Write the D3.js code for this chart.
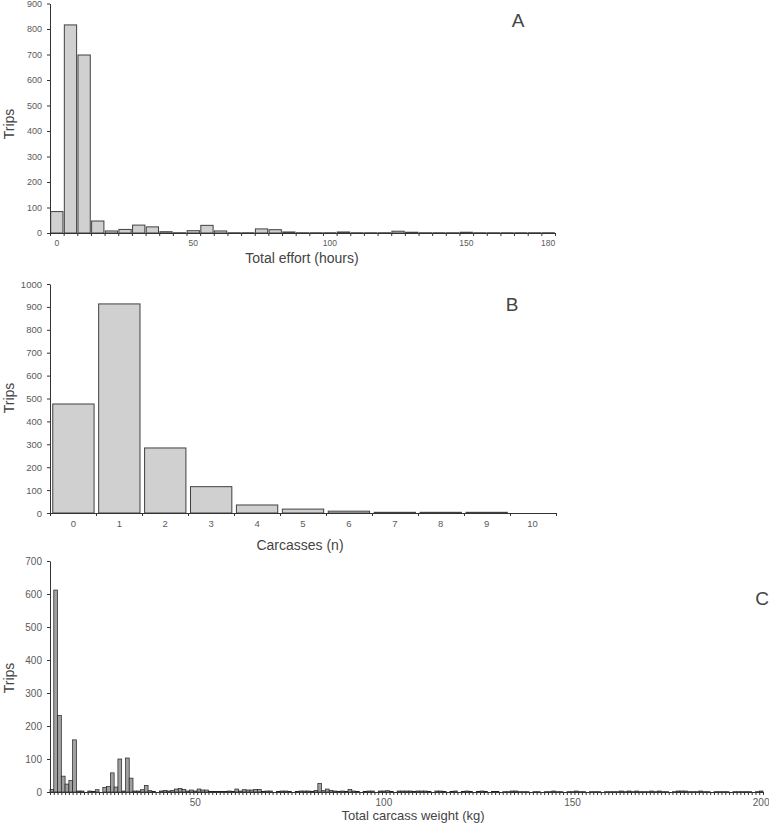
<!DOCTYPE html>
<html>
<head>
<meta charset="utf-8">
<script src="https://cdn.jsdelivr.net/npm/d3@7"></script>
<style>
  body { margin: 0; background: #fff; }
  svg text { font-family: Arial, "Liberation Sans", sans-serif; }
</style>
</head>
<body>
<svg id="chart" width="769" height="823"></svg>
<script>
// Panel A - total effort per trip, 5 hour bins
var effortBins = [0, 5, 10, 15, 20, 25, 30, 35, 40, 45, 50, 55, 60, 65, 70, 75, 80, 85, 90,
  95, 100, 105, 110, 115, 120, 125, 130, 135, 140, 145, 150, 155, 160, 165, 170, 175, 180];
var effortTrips = [84, 816, 698, 47, 8, 14, 31, 24, 5, 1, 9, 30, 8, 1, 1, 16, 13, 4, 1,
  1, 1, 4, 1, 1, 1, 7, 3, 1, 1, 1, 3, 1, 1, 1, 1, 1, 1];
var effortTickLabels = [0, 50, 100, 150, 180];
var effortYTicks = [0, 100, 200, 300, 400, 500, 600, 700, 800, 900];

// Panel B - carcasses per trip
var carcassCounts = [0, 1, 2, 3, 4, 5, 6, 7, 8, 9, 10];
var carcassTrips = [476, 913, 284, 115, 35, 17, 8, 3, 3, 3, 0];
var carcassYTicks = [0, 100, 200, 300, 400, 500, 600, 700, 800, 900, 1000];

// Panel C - total carcass weight per trip, 1 kg bins from 12 to 200 kg
var weightKg = d3.range(12, 201);
var weightTrips = [
  8, 612, 232, 48, 24, 35, 158, 3, 3, 0,
  3, 2, 7, 0, 14, 17, 58, 15, 100, 3,
  103, 42, 3, 3, 7, 20, 4, 2, 0, 3,
  5, 3, 5, 9, 11, 8, 3, 6, 3, 9,
  6, 6, 2, 2, 2, 2, 2, 3, 2, 9,
  3, 7, 6, 6, 8, 8, 2, 3, 3, 0,
  2, 3, 3, 2, 0, 2, 3, 3, 3, 2,
  5, 26, 4, 9, 5, 3, 2, 3, 2, 8,
  3, 2, 0, 2, 3, 3, 0, 3, 3, 4,
  2, 0, 3, 3, 3, 3, 2, 3, 3, 3,
  2, 0, 3, 3, 2, 0, 2, 3, 0, 2,
  3, 2, 0, 2, 3, 2, 0, 2, 2, 0,
  1, 1, 3, 3, 1, 1, 1, 0, 1, 1,
  0, 1, 1, 3, 1, 1, 0, 1, 1, 3,
  1, 1, 0, 1, 1, 1, 0, 1, 1, 1,
  1, 3, 1, 3, 1, 3, 1, 1, 1, 3,
  1, 3, 1, 1, 0, 1, 3, 3, 3, 1,
  1, 1, 3, 1, 1, 0, 1, 1, 1, 1,
  0, 1, 1, 1, 1, 1, 0, 1, 3];
var weightTickLabels = [50, 100, 150, 200];
var weightYTicks = [0, 100, 200, 300, 400, 500, 600, 700];

var svg = d3.select('#chart');

function drawPanel(p) {
  var g = svg.append('g');
  var n = p.cats.length;

  var x = d3.scaleBand()
    .domain(p.cats)
    .range([p.left, p.right])
    .paddingInner(p.padIn)
    .paddingOuter(p.padOut);
  var y = d3.scaleLinear()
    .domain([0, p.yMax])
    .range([p.bottom, p.top]);

  // bars
  g.append('g').selectAll('rect')
    .data(p.values)
    .enter()
    .append('rect')
    .attr('x', function(d, i) { return x(p.cats[i]); })
    .attr('y', function(d) { return y(d); })
    .attr('width', x.bandwidth())
    .attr('height', function(d) { return p.bottom - y(d); })
    .attr('fill', p.fill)
    .attr('stroke', p.stroke)
    .attr('stroke-width', p.strokeWidth);

  // small ticks on every bin boundary
  var edges = d3.scaleLinear().domain([0, n]).range([p.left, p.right]);
  g.append('g')
    .attr('transform', 'translate(0,' + p.bottom + ')')
    .call(d3.axisBottom(edges).tickValues(d3.range(n + 1)).tickSize(3).tickSizeOuter(0).tickFormat(''))
    .call(function(a) {
      a.select('.domain').attr('stroke', '#333');
      a.selectAll('.tick line').attr('stroke', '#333');
    });

  // category labels
  g.append('g')
    .attr('transform', 'translate(0,' + p.bottom + ')')
    .call(d3.axisBottom(x).tickValues(p.xTicks).tickSize(0).tickPadding(p.xPad))
    .call(function(a) {
      a.select('.domain').remove();
      a.selectAll('text').attr('fill', '#5a5a5a').style('font-size', p.xFont + 'px');
    });

  // y axis
  g.append('g')
    .attr('transform', 'translate(' + p.left + ',0)')
    .call(d3.axisLeft(y).tickValues(p.yTicks).tickFormat(d3.format('d'))
      .tickSize(3).tickSizeOuter(0).tickPadding(5))
    .call(function(a) {
      a.select('.domain').attr('stroke', '#333');
      a.selectAll('.tick line').attr('stroke', '#333');
      a.selectAll('text').attr('fill', '#5a5a5a').style('font-size', p.yFont + 'px');
    });

  // axis titles
  g.append('text')
    .attr('x', p.titleX)
    .attr('y', p.titleY)
    .attr('text-anchor', 'middle')
    .attr('fill', '#444')
    .style('font-size', p.titleFont + 'px')
    .text(p.title);

  g.append('text')
    .attr('transform', 'translate(' + 14 + ',' + p.tripsY + ') rotate(-90)')
    .attr('text-anchor', 'middle')
    .attr('fill', '#444')
    .style('font-size', '14px')
    .text('Trips');

  // panel letter
  g.append('text')
    .attr('x', p.letterX)
    .attr('y', p.letterY)
    .attr('text-anchor', 'middle')
    .attr('fill', '#444')
    .style('font-size', '19px')
    .text(p.letter);
}

drawPanel({
  cats: effortBins, values: effortTrips, xTicks: effortTickLabels, yTicks: effortYTicks,
  yMax: 900, left: 50, right: 555, top: 3.5, bottom: 233,
  padIn: 0.1, padOut: 0.05, fill: '#d0d0d0', stroke: '#404040', strokeWidth: 1,
  xFont: 8.5, yFont: 9, xPad: 7,
  title: 'Total effort (hours)', titleX: 302, titleY: 263, titleFont: 14, tripsY: 124,
  letter: 'A', letterX: 518, letterY: 27
});

drawPanel({
  cats: carcassCounts, values: carcassTrips, xTicks: carcassCounts, yTicks: carcassYTicks,
  yMax: 1000, left: 50, right: 556, top: 284, bottom: 513,
  padIn: 0.1, padOut: 0.06, fill: '#d0d0d0', stroke: '#404040', strokeWidth: 1,
  xFont: 9.5, yFont: 9.5, xPad: 7,
  title: 'Carcasses (n)', titleX: 300, titleY: 550, titleFont: 14, tripsY: 398,
  letter: 'B', letterX: 512, letterY: 311
});

drawPanel({
  cats: weightKg, values: weightTrips, xTicks: weightTickLabels, yTicks: weightYTicks,
  yMax: 700, left: 50, right: 763, top: 561, bottom: 792,
  padIn: 0, padOut: 0, fill: '#a0a0a0', stroke: '#222', strokeWidth: 0.7,
  xFont: 10, yFont: 10, xPad: 6.5,
  title: 'Total carcass weight (kg)', titleX: 413, titleY: 820, titleFont: 13, tripsY: 678,
  letter: 'C', letterX: 762, letterY: 605
});
</script>
</body>
</html>
